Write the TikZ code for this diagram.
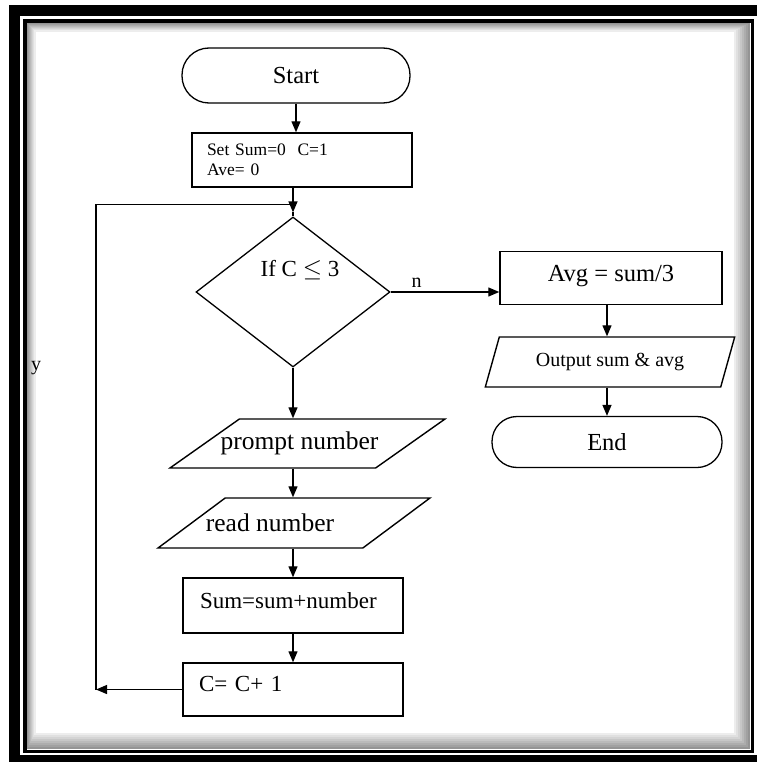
\documentclass[tikz,border=0pt]{standalone}
\usepackage{fontspec}
\setmainfont{Liberation Serif}
\usetikzlibrary{arrows.meta,positioning,calc,shapes.geometric}

\begin{document}
\begin{tikzpicture}[
    x=1pt, y=-1pt,
    every node/.style={font=\fontsize{24.5}{29}\selectfont, inner sep=0pt},
    procbox/.style={draw, line width=1.4pt, minimum width=220pt, minimum height=54pt},
    termbox/.style={draw, line width=1.3pt, rounded corners=27pt, minimum width=228pt, minimum height=55pt},
    iobox/.style={draw, line width=1.4pt, trapezium, trapezium left angle=63, trapezium right angle=117, trapezium stretches=true, inner sep=2pt, minimum height=50pt},
    decbox/.style={draw, line width=1.3pt, diamond, inner sep=2pt, minimum width=194pt, minimum height=150pt},
    flowarrow/.style={-{Triangle[length=11pt,width=9pt]}, line width=1.3pt}
  ]
    \useasboundingbox (0,0) rectangle (757,762);

    % page frame
    \fill (9,5) rectangle (757,16);
    \fill (9,5) rectangle (20,762);
    \fill (9,755) rectangle (757,762);
    \foreach \i [evaluate=\i as \g using int(42-5*\i)] in {0,...,7}
      \draw[black!\g, line width=2pt] (28+\i,24+\i) rectangle (749-2*\i,748-2*\i);
    \draw[line width=3.5pt] (25,21) rectangle (752.5,751.5);

    \node[termbox] (start) at (296,75.5) {Start};
    \node[procbox, text width=190pt, align=left, font=\fontsize{17.5}{20}\selectfont] (init) at (302,160) {Set Sum=0\ \ C=1\\Ave= 0};
    \node[decbox, label={[xshift=7pt, yshift=22pt, font=\fontsize{23}{27}\selectfont]center:If C $\leq$ 3}] (cond) at (293,292) {};

    \node[procbox, minimum width=222pt, minimum height=53pt, text depth=10pt] (avg) at (611,278) {Avg = sum/3};
    \node[iobox, minimum width=250pt, trapezium left angle=66, trapezium right angle=114, font=\fontsize{20}{24}\selectfont] (out) at (610,362) {Output sum \& avg};
    \node[termbox, minimum width=230pt, minimum height=51pt, rounded corners=25pt] (finish) at (607,442) {End};

    \node[iobox, minimum width=275pt, minimum height=49pt, label={[xshift=-8pt, font=\fontsize{25.5}{30}\selectfont]center:prompt number}] (prompt) at (307.5,443.5) {};
    \node[iobox, minimum width=272pt, trapezium left angle=64, trapezium right angle=116, label={[xshift=-24pt, font=\fontsize{25.5}{30}\selectfont]center:read number}] (read) at (294,523) {};
    \node[procbox, minimum height=55pt, text width=186pt, align=left, text depth=10pt, font=\fontsize{23}{27}\selectfont] (sum) at (293,605.5) {Sum=sum+number};
    \node[procbox, minimum height=53pt, text width=188pt, align=left, text depth=12pt, font=\fontsize{23}{27}\selectfont] (inc) at (293,689.5) {C= C+ 1};

    \node[font=\fontsize{20}{24}\selectfont] (ylab) at (36,368) {y};

    \coordinate (join) at ($(cond.north)+(0,-12)$);
    \coordinate (back) at (96,0);

    \draw[flowarrow] (start.south) -- (start.south |- init.north);
    \draw[flowarrow] (init.south -| cond.north) -- ([yshift=4pt]cond.north);
    \draw[line width=1.3pt] ([yshift=4pt]cond.north) -- (cond.north);
    \draw[flowarrow] (cond.east) -- (cond.east -| avg.west) node[pos=0.24, above=4pt, font=\fontsize{20}{24}\selectfont] (nlab) {n};
    \draw[flowarrow] (avg.south -| finish.north) -- (out.north -| finish.north);
    \draw[flowarrow] (out.south -| finish.north) -- (finish.north);

    \draw[flowarrow] (cond.south) -- (cond.south |- prompt.north);
    \draw[flowarrow] (prompt.south -| cond.south) -- (read.north -| cond.south);
    \draw[flowarrow] (read.south -| cond.south) -- (sum.north -| cond.south);
    \draw[flowarrow] (sum.south -| cond.south) -- (inc.north -| cond.south);
    \draw[flowarrow] (inc.west) -- (inc.west -| back);
    \draw[line width=1.3pt] (inc.west -| back) |- (join);
  \end{tikzpicture}
\end{document}
